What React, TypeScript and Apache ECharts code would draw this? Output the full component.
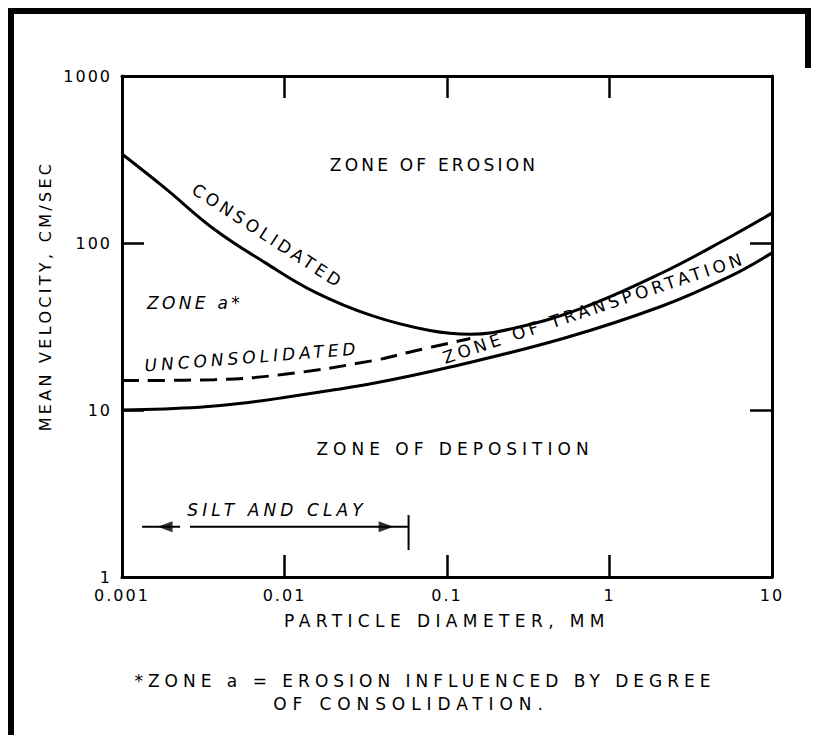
import React, { useEffect, useRef } from "react";
import * as echarts from "echarts";

// ---- data ----
const xTickValues = [0.001, 0.01, 0.1, 1, 10];
const xTickLabels = ["0.001", "0.01", "0.1", "1", "10"];
const yTickValues = [1, 10, 100, 1000];
const yTickLabels = ["1", "10", "100", "1000"];

// upper curve: erosion threshold for consolidated material (mm, cm/s)
const consolidatedD = [0.001, 0.00184, 0.00373, 0.00759, 0.0154, 0.0345, 0.0785, 0.139, 0.255, 0.658, 2.13, 5.51, 10];
const consolidatedV = [341, 213, 120, 76.3, 50.8, 36.7, 29.9, 28.4, 30.8, 40.3, 66.6, 108.6, 151];

// lower curve: deposition threshold
const depositionD = [0.001, 0.003, 0.006, 0.0095, 0.019, 0.036, 0.1, 0.518, 2.13, 5.51, 10];
const depositionV = [10, 10.4, 11.1, 11.8, 13.1, 14.5, 17.9, 26.8, 42.1, 63.1, 87.3];

// dashed curve: unconsolidated material
const unconsolidatedD = [0.001, 0.0037, 0.0097, 0.0345, 0.062, 0.139];
const unconsolidatedV = [15.0, 15.2, 16.3, 19.7, 22.5, 26.8];

// silt and clay range marker
const siltArrowV = 2;
const siltLeftSegD = [0.00133, 0.00228];
const siltRightSegD = [0.00262, 0.058];
const siltHeadsD = [0.00184, 0.0422];
const siltLimitD = 0.058;
const siltLimitV = [1.45, 2.35];

const FONT = "DejaVu Sans";

const zip = (a: number[], b: number[]) => a.map((v, i) => [v, b[i]]);
const fmt = (vals: number[], labels: string[]) => (v: number) => {
  const i = vals.findIndex((t) => Math.abs(Math.log10(t) - Math.log10(v)) < 1e-6);
  return i >= 0 ? labels[i] : "";
};

// letter spacing (px) applied to the rendered svg texts
const spacing: Record<string, number> = {
  "ZONE OF EROSION": 3.2,
  "CONSOLIDATED": 3.6,
  "ZONE a*": 3.3,
  "UNCONSOLIDATED": 4.0,
  "ZONE OF TRANSPORTATION": 3.8,
  "ZONE OF DEPOSITION": 5.0,
  "SILT AND CLAY": 4.1,
  "PARTICLE DIAMETER, MM": 5.4,
  "MEAN VELOCITY, CM/SEC": 3.3,
  "*ZONE a = EROSION INFLUENCED BY DEGREE": 5.0,
  "OF CONSOLIDATION.": 5.9,
};

const deg = (d: number) => (d * Math.PI) / 180;

export default function App() {
  const ref = useRef<HTMLDivElement>(null);
  useEffect(() => {
    if (!ref.current) return;
    const chart = echarts.init(ref.current, undefined, { renderer: "svg" });
    const axisLine = { show: true, lineStyle: { color: "#000", width: 3 } };
    const axisTick = { show: true, inside: true, length: 22, lineStyle: { color: "#000", width: 2.5 } };
    const txt = (text: string, x: number, y: number, opts: any = {}) => ({
      type: "text",
      x,
      y,
      rotation: opts.rotation ? deg(opts.rotation) : 0,
      silent: true,
      style: {
        text,
        fill: "#000",
        fontFamily: FONT,
        fontSize: opts.size || 17,
        fontStyle: opts.italic ? "italic" : "normal",
        textAlign: "center",
        textVerticalAlign: "middle",
      },
    });
    chart.setOption({
      animation: false,
      backgroundColor: "#fff",
      grid: { left: 122, right: 43, top: 76, bottom: 158, containLabel: false },
      xAxis: [
        {
          type: "log",
          logBase: 10,
          min: 0.001,
          max: 10,
          position: "bottom",
          axisLine,
          axisTick,
          splitLine: { show: false },
          minorTick: { show: false },
          axisLabel: {
            color: "#000",
            fontFamily: FONT,
            fontSize: 16,
            margin: 10,
            formatter: fmt(xTickValues, xTickLabels),
          },
          name: "PARTICLE DIAMETER, MM",
          nameLocation: "middle",
          nameGap: 35,
          nameTextStyle: { color: "#000", fontFamily: FONT, fontSize: 17 },
        },
        {
          type: "log",
          logBase: 10,
          min: 0.001,
          max: 10,
          position: "top",
          axisLine,
          axisTick,
          splitLine: { show: false },
          axisLabel: { show: false },
        },
      ],
      yAxis: [
        {
          type: "log",
          logBase: 10,
          min: 1,
          max: 1000,
          position: "left",
          axisLine,
          axisTick,
          splitLine: { show: false },
          axisLabel: {
            color: "#000",
            fontFamily: FONT,
            fontSize: 16,
            margin: 10,
            formatter: fmt(yTickValues, yTickLabels),
          },
        },
        {
          type: "log",
          logBase: 10,
          min: 1,
          max: 1000,
          position: "right",
          axisLine,
          axisTick,
          splitLine: { show: false },
          axisLabel: { show: false },
        },
      ],
      series: [
        {
          type: "line",
          silent: true,
          data: zip(consolidatedD, consolidatedV),
          smooth: 0.4,
          symbol: "none",
          lineStyle: { color: "#000", width: 3 },
        },
        {
          type: "line",
          silent: true,
          data: zip(depositionD, depositionV),
          smooth: 0.4,
          symbol: "none",
          lineStyle: { color: "#000", width: 3 },
        },
        {
          type: "line",
          silent: true,
          data: zip(unconsolidatedD, unconsolidatedV),
          smooth: 0.4,
          symbol: "none",
          lineStyle: { color: "#000", width: 3, type: [17, 9] },
        },
        {
          type: "line",
          silent: true,
          data: siltLeftSegD.map((d) => [d, siltArrowV]),
          symbol: "none",
          lineStyle: { color: "#000", width: 2 },
        },
        {
          type: "line",
          silent: true,
          data: siltRightSegD.map((d) => [d, siltArrowV]),
          symbol: "none",
          lineStyle: { color: "#000", width: 2 },
        },
        {
          type: "line",
          silent: true,
          data: siltLimitV.map((v) => [siltLimitD, v]),
          symbol: "none",
          lineStyle: { color: "#000", width: 2 },
        },
        {
          type: "scatter",
          silent: true,
          symbol: "triangle",
          symbolSize: [11, 15],
          itemStyle: { color: "#000" },
          data: siltHeadsD.map((d, i) => ({ value: [d, siltArrowV], symbolRotate: i === 0 ? 90 : -90 })),
        },
      ],
      graphic: [
        { type: "rect", silent: true, shape: { x: 8, y: 8, width: 6, height: 727 }, style: { fill: "#000" } },
        { type: "rect", silent: true, shape: { x: 8, y: 8, width: 803, height: 6 }, style: { fill: "#000" } },
        { type: "rect", silent: true, shape: { x: 805, y: 8, width: 6, height: 60 }, style: { fill: "#000" } },
        txt("ZONE OF EROSION", 434, 165),
        txt("CONSOLIDATED", 268, 236, { rotation: -33 }),
        txt("ZONE a*", 195, 303, { italic: true }),
        txt("UNCONSOLIDATED", 252, 357, { italic: true, rotation: 4.6 }),
        txt("ZONE OF TRANSPORTATION", 594, 308, { rotation: 18.4 }),
        txt("ZONE OF DEPOSITION", 455, 449),
        txt("SILT AND CLAY", 277, 510, { italic: true }),
        txt("MEAN VELOCITY, CM/SEC", 45, 296, { rotation: 90, size: 16 }),
        txt("*ZONE a = EROSION INFLUENCED BY DEGREE", 425, 681),
        txt("OF CONSOLIDATION.", 411, 704),
      ],
    });
    const applySpacing = () => {
      ref.current?.querySelectorAll("text").forEach((t) => {
        const s = spacing[(t.textContent || "").trim()];
        (t as SVGTextElement).style.letterSpacing = (s !== undefined ? s : 2) + "px";
      });
    };
    applySpacing();
    chart.on("finished", applySpacing);
    return () => chart.dispose();
  }, []);
  return (
    <div
      ref={ref}
      style={{ position: "absolute", left: 0, top: 0, width: 815, height: 735, background: "#fff" }}
    />
  );
}
